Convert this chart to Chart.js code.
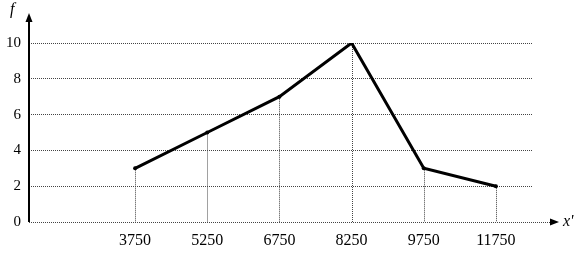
<!DOCTYPE html>
<html>
<head>
<meta charset="utf-8">
<script src="https://cdn.jsdelivr.net/npm/chart.js@4"></script>
<style>
  html, body { margin: 0; padding: 0; background: #fff; }
  #wrap { width: 578px; height: 256px; }
</style>
</head>
<body>
<div id="wrap"><canvas id="chart"></canvas></div>
<script>
// data
const classMarks = ['3750', '5250', '6750', '8250', '9750', '11750'];
const frequencies = [3, 5, 7, 10, 3, 2];
const yTicks = [0, 2, 4, 6, 8, 10];

const points = classMarks.map((c, i) => ({ x: i, y: frequencies[i] }));

// axes with arrows, dotted droplines and axis names
const axesPlugin = {
  id: 'axesPlugin',
  beforeDatasetsDraw(chart) {
    const ctx = chart.ctx;
    const xs = chart.scales.x;
    const ys = chart.scales.y;
    const area = chart.chartArea;
    const y0 = ys.getPixelForValue(0);
    ctx.save();
    // dotted drop lines
    ctx.strokeStyle = '#444';
    ctx.lineWidth = 1;
    ctx.setLineDash([1, 1]);
    points.forEach(p => {
      const px = Math.round(xs.getPixelForValue(p.x)) + 0.5;
      ctx.beginPath();
      ctx.moveTo(px, ys.getPixelForValue(p.y));
      ctx.lineTo(px, y0);
      ctx.stroke();
    });
    // x axis dotted line extended
    ctx.beginPath();
    ctx.moveTo(area.left, Math.round(y0) + 0.5);
    ctx.lineTo(552, Math.round(y0) + 0.5);
    ctx.stroke();
    ctx.setLineDash([]);
    // y axis solid
    ctx.strokeStyle = '#000';
    ctx.lineWidth = 2;
    ctx.beginPath();
    ctx.moveTo(area.left, y0);
    ctx.lineTo(area.left, 20);
    ctx.stroke();
    // arrow heads
    ctx.fillStyle = '#000';
    ctx.beginPath();
    ctx.moveTo(area.left, 13);
    ctx.lineTo(area.left - 3.5, 22);
    ctx.lineTo(area.left + 3.5, 22);
    ctx.closePath();
    ctx.fill();
    ctx.beginPath();
    ctx.moveTo(559, y0);
    ctx.lineTo(550, y0 - 3.5);
    ctx.lineTo(550, y0 + 3.5);
    ctx.closePath();
    ctx.fill();
    // axis names
    ctx.font = 'italic 16px "Liberation Serif"';
    ctx.textAlign = 'left';
    ctx.textBaseline = 'middle';
    ctx.fillText('f', 10, 10);
    ctx.fillText("x'", 563, y0);
    ctx.restore();
  }
};

new Chart(document.getElementById('chart'), {
  type: 'line',
  data: {
    datasets: [{
      data: points,
      borderColor: '#000',
      backgroundColor: '#000',
      borderWidth: 3,
      pointRadius: 2,
      pointBorderWidth: 0,
      tension: 0
    }]
  },
  plugins: [axesPlugin],
  options: {
    responsive: true,
    maintainAspectRatio: false,
    animation: false,
    layout: { padding: { left: 0, top: 43, right: 46, bottom: 0 } },
    plugins: { legend: { display: false }, tooltip: { enabled: false } },
    scales: {
      x: {
        type: 'linear',
        min: -1.47,
        max: 5.5,
        afterBuildTicks(scale) {
          scale.ticks = classMarks.map((c, i) => ({ value: i }));
        },
        afterFit(scale) { scale.height = 34; },
        grid: { display: false, drawTicks: false },
        border: { display: false },
        ticks: {
          autoSkip: false,
          maxRotation: 0,
          padding: 9,
          color: '#000',
          font: { family: 'Liberation Serif', size: 16 },
          callback: (v) => classMarks[v]
        }
      },
      y: {
        min: 0,
        max: 10,
        afterBuildTicks(scale) {
          scale.ticks = yTicks.map(v => ({ value: v }));
        },
        afterFit(scale) { scale.width = 29; },
        grid: {
          color: (c) => c.tick.value === 0 ? 'rgba(0,0,0,0)' : '#444',
          lineWidth: 1,
          drawTicks: false
        },
        border: { display: false, dash: [1, 1] },
        ticks: {
          padding: 8,
          color: '#000',
          font: { family: 'Liberation Serif', size: 15 }
        }
      }
    }
  }
});
</script>
</body>
</html>
